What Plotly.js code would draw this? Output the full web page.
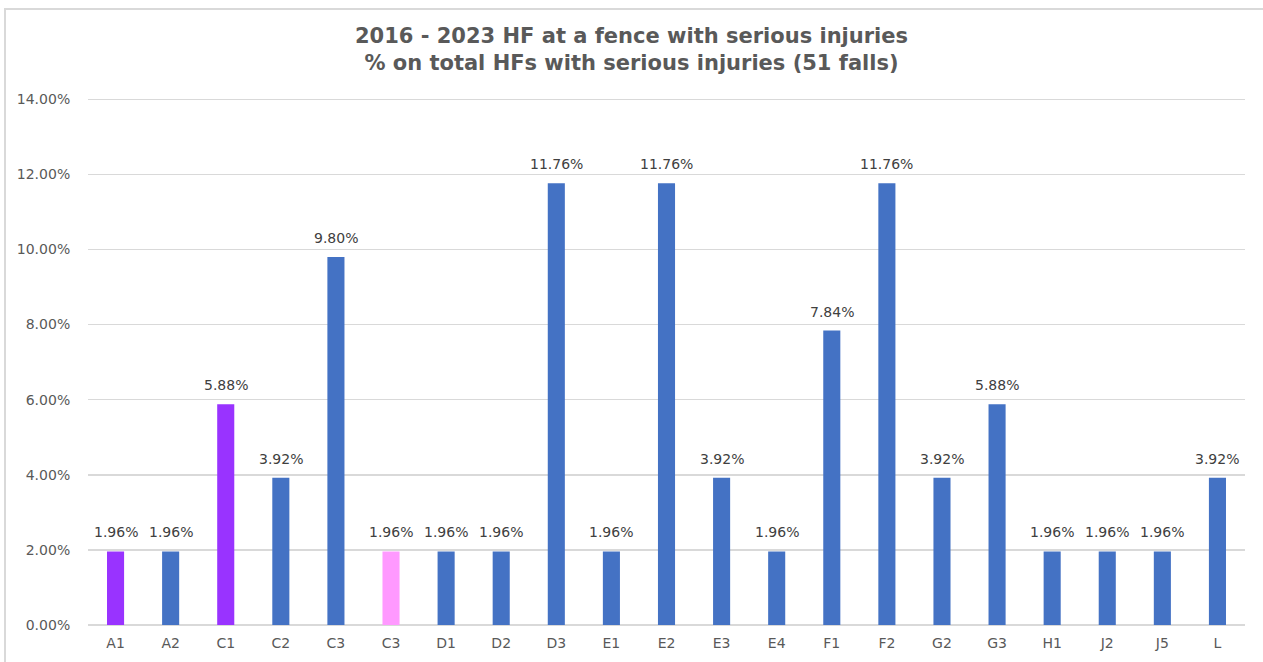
<!DOCTYPE html>
<html>
<head>
<meta charset="utf-8">
<script src="https://cdn.plot.ly/plotly-3.0.1.min.js"></script>
<style>
body{margin:0;padding:0;background:#fff;overflow:hidden;}
#chart{width:1263px;height:662px;position:absolute;left:0;top:0;}
#frame{position:absolute;left:4px;top:8px;width:1400px;height:800px;border-left:2px solid #d9d9d9;border-top:2px solid #d9d9d9;pointer-events:none;}
</style>
</head>
<body>
<div id="chart"></div>
<div id="frame"></div>
<script>
var categories = ["A1","A2","C1","C2","C3","C3","D1","D2","D3","E1","E2","E3","E4","F1","F2","G2","G3","H1","J2","J5","L"];
var values = [0.0196,0.0196,0.0588,0.0392,0.0980,0.0196,0.0196,0.0196,0.1176,0.0196,0.1176,0.0392,0.0196,0.0784,0.1176,0.0392,0.0588,0.0196,0.0196,0.0196,0.0392];
var barColors = ["#9933ff","#4472c4","#9933ff","#4472c4","#4472c4","#ff99ff","#4472c4","#4472c4","#4472c4","#4472c4","#4472c4","#4472c4","#4472c4","#4472c4","#4472c4","#4472c4","#4472c4","#4472c4","#4472c4","#4472c4","#4472c4"];
var yTicks = [0,0.02,0.04,0.06,0.08,0.10,0.12,0.14];

var xs = categories.map(function(c,i){return i;});
var font = "DejaVu Sans, Verdana, sans-serif";

var trace = {
  type: "bar",
  x: xs,
  y: values,
  marker: {color: barColors},
  width: 0.31,
  hoverinfo: "x+y"
};

var annotations = values.map(function(v,i){
  return {
    x: xs[i], y: v, xref: "x", yref: "y",
    text: (v*100).toFixed(2)+"%",
    showarrow: false, yanchor: "bottom", yshift: 9,
    font: {family: font, size: 14, color: "#404040"}
  };
});

var layout = {
  width: 1263, height: 662,
  margin: {l: 88, r: 18, t: 97, b: 37},
  paper_bgcolor: "#ffffff",
  plot_bgcolor: "#ffffff",
  showlegend: false,
  annotations: annotations,
  title: {
    text: "<b>2016 - 2023 HF at a fence with serious injuries<br>% on total HFs with serious injuries (51 falls)</b>",
    font: {family: font, size: 21, color: "#595959"},
    x: 0.5, xanchor: "center", y: 0.935, yanchor: "top"
  },
  xaxis: {
    range: [-0.5, 20.5],
    tickvals: xs,
    ticktext: categories,
    showgrid: false,
    zeroline: false,
    showline: false,
    ticks: "outside",
    ticklen: 5,
    tickcolor: "rgba(0,0,0,0)",
    tickfont: {family: font, size: 14, color: "#595959"},
    fixedrange: true
  },
  yaxis: {
    range: [0, 0.1406],
    tickvals: yTicks,
    tickformat: ".2%",
    showgrid: true,
    gridcolor: "#d9d9d9",
    gridwidth: 1.5,
    zeroline: true,
    zerolinecolor: "#d9d9d9",
    zerolinewidth: 1.5,
    showline: false,
    ticks: "outside",
    ticklen: 14,
    tickcolor: "rgba(0,0,0,0)",
    tickfont: {family: font, size: 14, color: "#595959"},
    fixedrange: true
  }
};

Plotly.newPlot("chart", [trace], layout, {displayModeBar: false, staticPlot: true});
</script>
</body>
</html>
